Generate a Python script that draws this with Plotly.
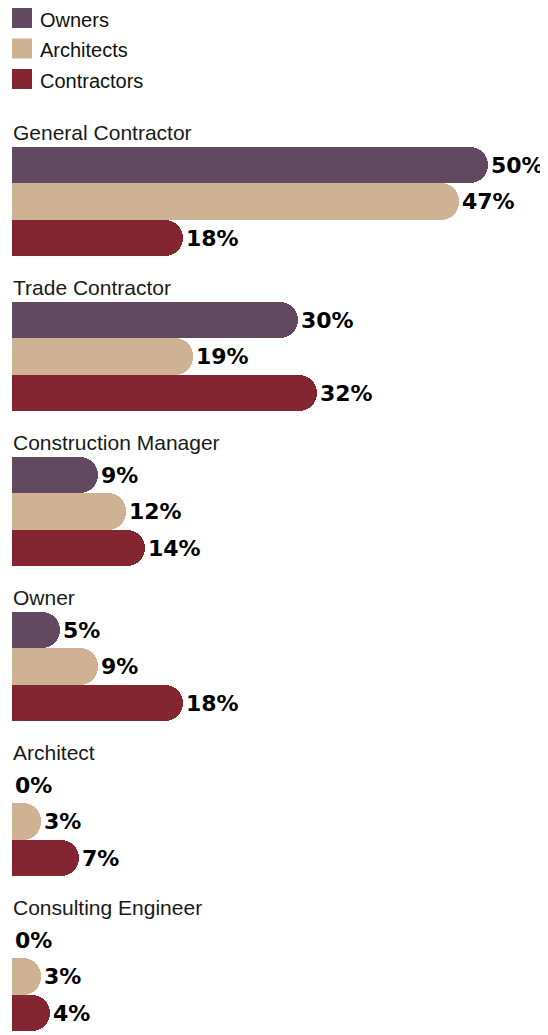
import plotly.graph_objects as go
from plotly.subplots import make_subplots

# Data
categories = ["General Contractor", "Trade Contractor", "Construction Manager",
              "Owner", "Architect", "Consulting Engineer"]
series = ["Owners", "Architects", "Contractors"]
owners = [50, 30, 9, 5, 0, 0]
architects = [47, 19, 12, 9, 3, 3]
contractors = [18, 32, 14, 18, 7, 4]
colors = ["#614a60", "#cfb294", "#842631"]

values = [owners, architects, contractors]

# page body has an 8px margin, so the figure is a bit smaller than the window
OFF = 8
W, H = 548 - OFF, 1035 - OFF
ML, MR, MT, MB = 12 - OFF, 0, 147 - OFF, 4
plot_h = H - MT - MB
plot_w = W - ML - MR

label_font = "Liberation Sans, Arial, sans-serif"
value_font = "DejaVu Sans, Verdana, sans-serif"


def py(p):
    # window pixel row -> paper y
    return (H - MB - (p - OFF)) / plot_h


def px(p):
    # window pixel column -> paper x
    return (p - OFF - ML) / plot_w


fig = make_subplots(rows=len(categories), cols=1, vertical_spacing=46 / plot_h)

for i, cat in enumerate(categories):
    row = i + 1
    for s, name in enumerate(series):
        v = values[s][i]
        fig.add_trace(
            go.Bar(
                x=[v], y=[name], orientation="h",
                marker=dict(color=colors[s], line=dict(width=0)),
                text=[f"{v}%"], textposition="outside",
                textfont=dict(family=value_font, size=22, color="#000000", weight="bold"),
                constraintext="none", cliponaxis=False,
                showlegend=False, hoverinfo="skip",
            ),
            row=row, col=1,
        )
    yref = "y domain" if row == 1 else f"y{row} domain"
    fig.add_annotation(
        text=cat, xref="paper", yref=yref, x=0, y=1,
        xanchor="left", yanchor="bottom", yshift=1, xshift=-1,
        showarrow=False, font=dict(family=label_font, size=21, color="#1a1a1a"),
    )

# Legend
for s, name in enumerate(series):
    top = 8 + s * 30.5
    fig.add_shape(
        type="rect", xref="paper", yref="paper",
        x0=px(12), x1=px(32), y0=py(top + 20), y1=py(top),
        fillcolor=colors[s], line=dict(width=0),
    )
    fig.add_annotation(
        text=name, xref="paper", yref="paper", x=px(39), y=py(top + 12),
        xanchor="left", yanchor="middle", showarrow=False, height=22, borderpad=0,
        font=dict(family=label_font, size=20, color="#111111"),
    )

fig.update_xaxes(range=[0, plot_w / 9.52], visible=False, fixedrange=True)
fig.update_yaxes(categoryorder="array", categoryarray=series[::-1],
                 visible=False, fixedrange=True)

fig.update_layout(
    width=W, height=H,
    margin=dict(l=ML, r=MR, t=MT, b=MB),
    barmode="overlay", bargap=0, barcornerradius=18,
    plot_bgcolor="white", paper_bgcolor="white",
    showlegend=False,
)

fig.write_html("out.html")
